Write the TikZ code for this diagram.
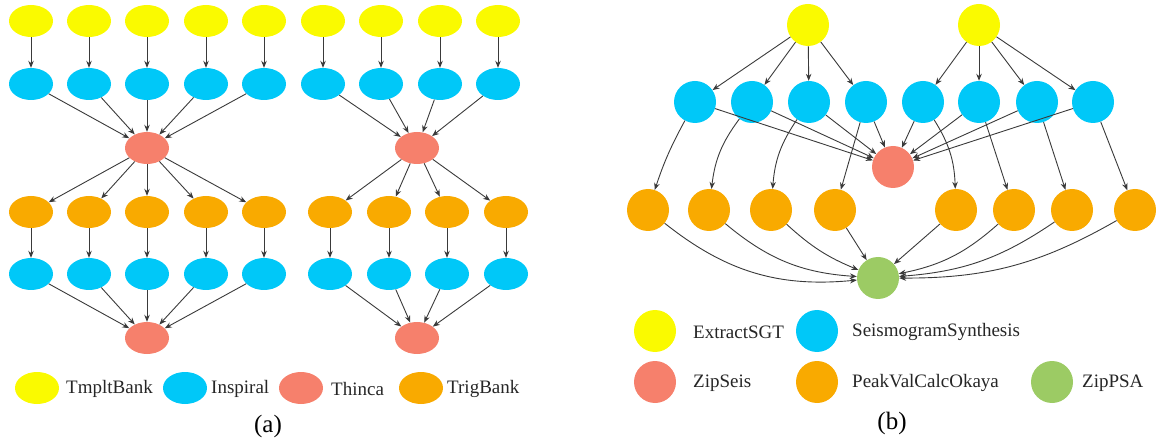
\documentclass[tikz,border=0pt]{standalone}
\usepackage{fontspec}
\setmainfont{Liberation Serif}
\usetikzlibrary{shapes.geometric,arrows.meta}
\definecolor{cyel}{HTML}{FAFA00}
\definecolor{cblu}{HTML}{00C8F8}
\definecolor{cred}{HTML}{F6806C}
\definecolor{corg}{HTML}{F9AA00}
\definecolor{cgrn}{HTML}{9CCB64}
\definecolor{cedge}{HTML}{3A3A3A}
\begin{document}
\begin{tikzpicture}[x=1pt,y=1pt,
  ell/.style={ellipse, minimum width=44pt, minimum height=32pt, inner sep=0pt},
  circ/.style={circle, minimum size=42pt, inner sep=0pt},
  edge/.style={draw=cedge, line width=0.9pt, -{Stealth[length=7pt,width=5.5pt]}},
  lab/.style={anchor=west, font=\fontsize{19}{21}\selectfont, inner sep=0pt, text=black!85},
  capt/.style={font=\fontsize{25}{28}\selectfont, inner sep=0pt}
]
\path[use as bounding box] (0,0) rectangle (1161,-443);

% ---------------- (a) ----------------
\node[ell,fill=cred] (ar1) at (147,-148) {};
\node[ell,fill=cred] (as1) at (147,-338) {};
\node[ell,fill=cred] (ar2) at (417,-148) {};
\node[ell,fill=cred] (as2) at (417,-338) {};
\foreach \i/\x in {1/31,2/89,3/147,4/206,5/264}{
  \node[ell,fill=cyel] (ay\i) at (\x,-21) {};
  \node[ell,fill=cblu] (ab\i) at (\x,-84) {};
  \node[ell,fill=corg] (ao\i) at (\x,-212) {};
  \node[ell,fill=cblu] (ac\i) at (\x,-274) {};
  \draw[edge] (ay\i) -- (ab\i);
  \draw[edge] (ab\i) -- (ar1);
  \draw[edge] (ar1) -- (ao\i);
  \draw[edge] (ao\i) -- (ac\i);
  \draw[edge] (ac\i) -- (as1);
}
\foreach \i/\x/\xx in {1/323/330,2/381/389,3/440/447,4/498/506}{
  \node[ell,fill=cyel] (ty\i) at (\x,-21) {};
  \node[ell,fill=cblu] (tb\i) at (\x,-84) {};
  \node[ell,fill=corg] (to\i) at (\xx,-212) {};
  \node[ell,fill=cblu] (tc\i) at (\xx,-274) {};
  \draw[edge] (ty\i) -- (tb\i);
  \draw[edge] (tb\i) -- (ar2);
  \draw[edge] (ar2) -- (to\i);
  \draw[edge] (to\i) -- (tc\i);
  \draw[edge] (tc\i) -- (as2);
}
% legend (a)
\node[ell,fill=cyel] (la1) at (37,-388) {};
\node[lab] (lt1) at (66,-389) {TmpltBank};
\node[ell,fill=cblu] (la2) at (185,-388) {};
\node[lab] (lt2) at (211,-389) {Inspiral};
\node[ell,fill=cred] (la3) at (301,-388) {};
\node[lab] (lt3) at (331,-389) {Thinca};
\node[ell,fill=corg] (la4) at (421,-388) {};
\node[lab] (lt4) at (447,-389) {TrigBank};
\node[capt] (capa) at (268,-426) {(a)};

% ---------------- (b) ----------------
\node[circ,fill=cyel] (y1) at (808,-25) {};
\node[circ,fill=cyel] (y2) at (979,-25) {};
\node[circ,fill=cred] (zs) at (893,-167) {};
\node[circ,fill=cgrn] (zp) at (878,-278) {};
\foreach \i/\x in {1/695,2/752,3/809,4/866,5/923,6/979,7/1037,8/1093}{
  \node[circ,fill=cblu] (b\i) at (\x,-102) {};
}
\foreach \i/\x in {1/648,2/709,3/771,4/835,5/956,6/1014,7/1072,8/1135}{
  \node[circ,fill=corg] (o\i) at (\x,-210) {};
}
\foreach \i in {1,2,3,4}{ \draw[edge] (y1) -- (b\i); }
\foreach \i in {5,6,7,8}{ \draw[edge] (y2) -- (b\i); }
\foreach \i in {1,...,8}{ \draw[edge] (b\i) -- (zs); }
\draw[edge] (b1) to[bend right=5] (o1);
\draw[edge] (b2) to[bend right=15] (o2);
\draw[edge] (b3) to[bend right=15] (o3);
\draw[edge] (b4) -- (o4);
\draw[edge] (b5) to[bend left=15] (o5);
\draw[edge] (b6) -- (o6);
\draw[edge] (b7) -- (o7);
\draw[edge] (b8) -- (o8);
\draw[edge] (o1) to[bend right=22] (zp);
\draw[edge] (o2) to[bend right=18] (zp);
\draw[edge] (o3) to[bend right=10] (zp);
\draw[edge] (o4) -- (zp);
\draw[edge] (o5) -- (zp);
\draw[edge] (o6) to[bend left=15] (zp);
\draw[edge] (o7) to[bend left=15] (zp);
\draw[edge] (o8) to[bend left=15] (zp);
% legend (b)
\node[circ,fill=cyel] (lb1) at (655,-331) {};
\node[lab] (lbt1) at (693,-332) {ExtractSGT};
\node[circ,fill=cblu] (lb2) at (817,-331) {};
\node[lab] (lbt2) at (852,-332) {SeismogramSynthesis};
\node[circ,fill=cred] (lb3) at (655,-382) {};
\node[lab] (lbt3) at (693,-383) {ZipSeis};
\node[circ,fill=corg] (lb4) at (817,-382) {};
\node[lab] (lbt4) at (852,-383) {PeakValCalcOkaya};
\node[circ,fill=cgrn] (lb5) at (1052,-382) {};
\node[lab] (lbt5) at (1082,-383) {ZipPSA};
\node[capt] (capb) at (892,-423) {(b)};
\end{tikzpicture}
\end{document}
